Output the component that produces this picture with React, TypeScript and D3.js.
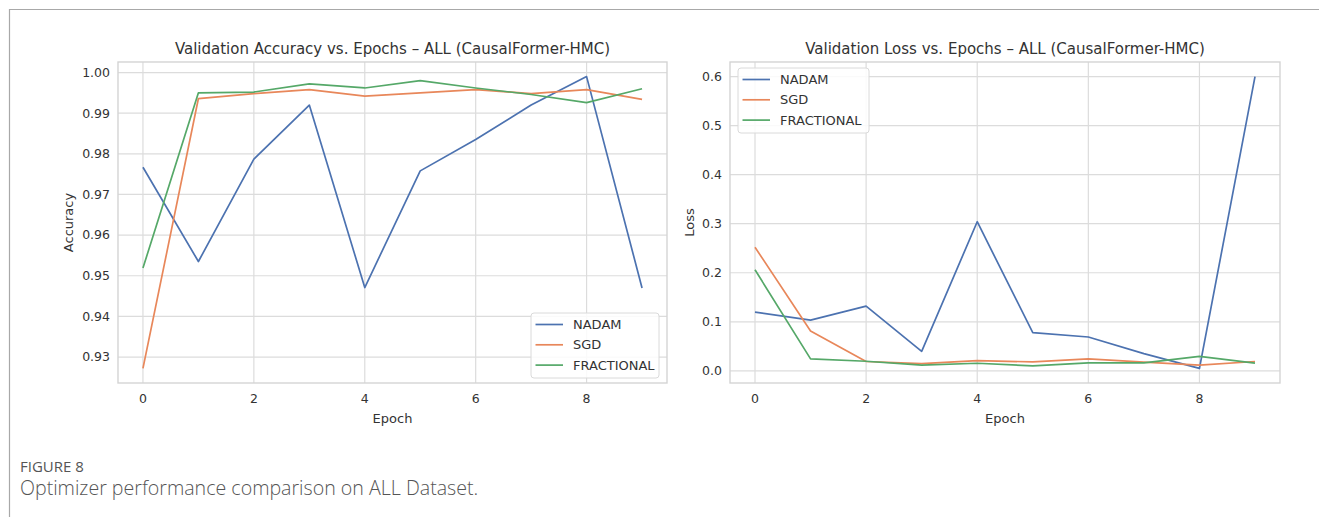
import React from "react";
import * as d3 from "d3";

const epochs = [0, 1, 2, 3, 4, 5, 6, 7, 8, 9];
const seriesNames = ["NADAM", "SGD", "FRACTIONAL"];
const seriesColors = ["#4c72b0", "#e8875a", "#55a868"];

const accNadam = [0.9767, 0.9535, 0.9787, 0.992, 0.9471, 0.9758, 0.9835, 0.992, 0.999, 0.947];
const accSgd = [0.9272, 0.9936, 0.9948, 0.9958, 0.9942, 0.995, 0.9958, 0.9948, 0.9958, 0.9934];
const accFrac = [0.9519, 0.995, 0.9952, 0.9972, 0.9962, 0.998, 0.9962, 0.9946, 0.9926, 0.996];

const lossNadam = [0.1196, 0.1034, 0.1318, 0.0398, 0.304, 0.0777, 0.069, 0.035, 0.0049, 0.6];
const lossSgd = [0.252, 0.081, 0.019, 0.0148, 0.0209, 0.0182, 0.0243, 0.0176, 0.0116, 0.019];
const lossFrac = [0.206, 0.0243, 0.0195, 0.0114, 0.0154, 0.0101, 0.0162, 0.0162, 0.0294, 0.0157];

const xTicks = [0, 2, 4, 6, 8];
const accTicks = [0.93, 0.94, 0.95, 0.96, 0.97, 0.98, 0.99, 1.0];
const lossTicks = [0, 0.1, 0.2, 0.3, 0.4, 0.5, 0.6];

const accTitle = "Validation Accuracy vs. Epochs \u2013 ALL (CausalFormer-HMC)";
const lossTitle = "Validation Loss vs. Epochs \u2013 ALL (CausalFormer-HMC)";
const figLabel = "FIGURE 8";
const figCaption = "Optimizer performance comparison on ALL Dataset.";

const FONT = "'DejaVu Sans', sans-serif";
const TXT = "#333";
const GRID = "#dcdcdc";

type PanelProps = {
  left: number;
  right: number;
  top: number;
  bottom: number;
  series: number[][];
  yTicks: number[];
  yFmt: (v: number) => string;
  title: string;
  yLabel: string;
  yLabelX: number;
  legend: { x: number; y: number; w: number; h: number };
};

function Panel(p: PanelProps) {
  const all = p.series.flat();
  const [mn, mx] = d3.extent(all) as [number, number];
  const pad = (mx - mn) * 0.05;
  const y = d3.scaleLinear().domain([mn - pad, mx + pad]).range([p.bottom, p.top]);
  const x = d3
    .scaleLinear()
    .domain([-0.45, 9.45])
    .range([p.left, p.right]);
  const line = d3
    .line<number>()
    .x((_, i) => x(epochs[i]))
    .y((d) => y(d));
  const cx = (p.left + p.right) / 2;
  const cy = (p.top + p.bottom) / 2;
  return (
    <g>
      <rect x={p.left} y={p.top} width={p.right - p.left} height={p.bottom - p.top} fill="#fff" />
      {xTicks.map((t) => (
        <line key={"gx" + t} x1={x(t)} x2={x(t)} y1={p.top} y2={p.bottom} stroke={GRID} strokeWidth={1.2} />
      ))}
      {p.yTicks.map((t) => (
        <line key={"gy" + t} x1={p.left} x2={p.right} y1={y(t)} y2={y(t)} stroke={GRID} strokeWidth={1.2} />
      ))}
      <rect
        x={p.left}
        y={p.top}
        width={p.right - p.left}
        height={p.bottom - p.top}
        fill="none"
        stroke="#d4d4d4"
        strokeWidth={1.4}
      />
      {p.series.map((s, i) => (
        <path key={"s" + i} d={line(s) || ""} fill="none" stroke={seriesColors[i]} strokeWidth={1.7} strokeLinejoin="round" />
      ))}
      {xTicks.map((t) => (
        <text key={"tx" + t} x={x(t)} y={p.bottom + 20} textAnchor="middle" fontSize={12.5} fill={TXT} fontFamily={FONT}>
          {t}
        </text>
      ))}
      {p.yTicks.map((t) => (
        <text key={"ty" + t} x={p.left - 8} y={y(t)} dy="0.35em" textAnchor="end" fontSize={12.5} fill={TXT} fontFamily={FONT}>
          {p.yFmt(t)}
        </text>
      ))}
      <text x={cx} y={p.bottom + 40} textAnchor="middle" fontSize={13} fill={TXT} fontFamily={FONT}>
        Epoch
      </text>
      <text
        transform={`translate(${p.yLabelX},${cy}) rotate(-90)`}
        textAnchor="middle"
        fontSize={13}
        fill={TXT}
        fontFamily={FONT}
      >
        {p.yLabel}
      </text>
      <text x={cx} y={p.top - 8} textAnchor="middle" fontSize={15} fill={TXT} fontFamily={FONT}>
        {p.title}
      </text>
      <g>
        <rect
          x={p.legend.x}
          y={p.legend.y}
          width={p.legend.w}
          height={p.legend.h}
          rx={3}
          fill="#fff"
          fillOpacity={0.85}
          stroke="#dadada"
          strokeWidth={1}
        />
        {seriesNames.map((n, i) => {
          const ry = p.legend.y + 11.5 + i * 20.3;
          return (
            <g key={"lg" + n}>
              <line x1={p.legend.x + 4.5} x2={p.legend.x + 32} y1={ry} y2={ry} stroke={seriesColors[i]} strokeWidth={1.7} />
              <text x={p.legend.x + 42} y={ry} dy="0.35em" fontSize={13} fill={TXT} fontFamily={FONT}>
                {n}
              </text>
            </g>
          );
        })}
      </g>
    </g>
  );
}

export default function App() {
  return (
    <svg
      width={1319}
      height={517}
      style={{ position: "absolute", left: 0, top: 0, background: "#fff" }}
      xmlns="http://www.w3.org/2000/svg"
    >
      <rect x={0} y={0} width={1319} height={517} fill="#fff" />
      <line x1={9} x2={1319} y1={9.5} y2={9.5} stroke="#a8a8a8" strokeWidth={1.2} />
      <line x1={9.5} x2={9.5} y1={9} y2={517} stroke="#a8a8a8" strokeWidth={1.2} />
      <Panel
        left={118}
        right={667}
        top={62}
        bottom={383}
        series={[accNadam, accSgd, accFrac]}
        yTicks={accTicks}
        yFmt={(v) => v.toFixed(2)}
        title={accTitle}
        yLabel="Accuracy"
        yLabelX={73}
        legend={{ x: 531, y: 313, w: 128, h: 65 }}
      />
      <Panel
        left={730}
        right={1280}
        top={62}
        bottom={383}
        series={[lossNadam, lossSgd, lossFrac]}
        yTicks={lossTicks}
        yFmt={(v) => v.toFixed(1)}
        title={lossTitle}
        yLabel="Loss"
        yLabelX={694}
        legend={{ x: 738, y: 68, w: 131, h: 65 }}
      />
      <text x={20} y={472} fontSize={15} fill="#555" fontFamily="'Open Sans', sans-serif">
        {figLabel}
      </text>
      <text x={20} y={495} fontSize={19.6} fill="#555" fontFamily="'Open Sans', sans-serif" fontWeight={300}>
        {figCaption}
      </text>
    </svg>
  );
}
